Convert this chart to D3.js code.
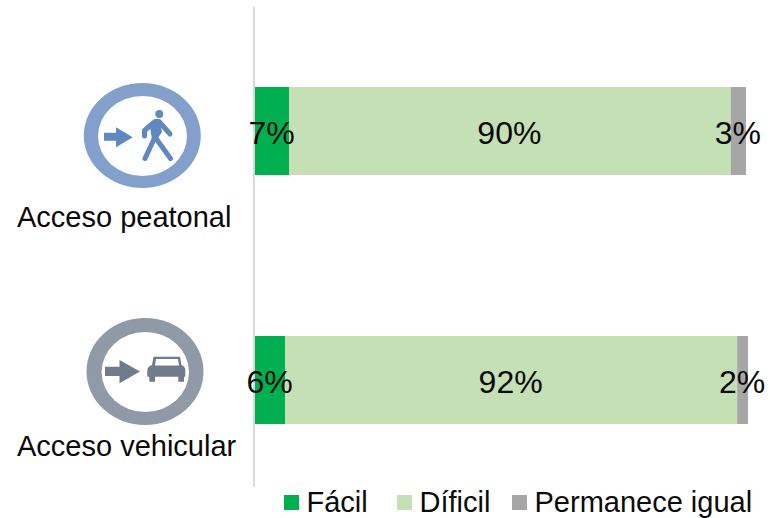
<!DOCTYPE html>
<html><head><meta charset="utf-8">
<script src="https://cdn.jsdelivr.net/npm/d3@7/dist/d3.min.js"></script>
<style>html,body{margin:0;padding:0;background:#fff}svg{display:block}text{font-family:"Liberation Sans",Arial,sans-serif;fill:#0a0a0a}</style>
</head><body><div id="c"></div>
<script>
const categories = ["Acceso peatonal", "Acceso vehicular"];
const seriesNames = ["Fácil", "Díficil", "Permanece igual"];
const facil = [6.9, 6.1];
const dificil = [89.6, 91.7];
const igual = [3.1, 2.2];
const colors = ["#00b050", "#c5e0b4", "#a6a6a6"];

const svg = d3.select("#c").append("svg").attr("width", 770).attr("height", 518);
const defs = svg.append("defs");
defs.append("filter").attr("id", "soft").append("feGaussianBlur").attr("stdDeviation", 0.6);

const x = d3.scaleLinear().domain([0, 100]).range([255, 748]);
const y = d3.scaleBand().domain(categories).range([87, 424]).paddingInner(0.6466);

const rows = categories.map((c, i) => ({ cat: c, vals: [facil[i], dificil[i], igual[i]] }));
const stacked = d3.stack().keys([0, 1, 2]).value((d, k) => d.vals[k])(rows);

svg.append("g").selectAll("g").data(stacked).join("g").attr("fill", (d, i) => colors[i])
  .selectAll("rect").data(d => d).join("rect")
  .attr("x", d => x(d[0])).attr("width", d => x(d[1]) - x(d[0]))
  .attr("y", d => y(d.data.cat)).attr("height", y.bandwidth());

const axis = d3.axisLeft(y).tickSize(0).tickFormat("");
const ag = svg.append("g").attr("transform", "translate(254,0)").call(axis);
ag.select(".domain").remove();
svg.append("line").attr("x1", 254).attr("x2", 254).attr("y1", 7).attr("y2", 487).attr("stroke", "#d9d9d9").attr("stroke-width", 2);

svg.append("g").selectAll("g").data(stacked).join("g")
  .selectAll("text").data(d => d).join("text")
  .attr("x", d => (x(d[0]) + x(d[1])) / 2 - 0.5)
  .attr("y", d => y(d.data.cat) + 57)
  .attr("text-anchor", "middle").attr("font-size", 32)
  .text(d => d3.format(".0f")(d[1] - d[0]) + "%");

svg.append("g").selectAll("text").data(categories).join("text")
  .attr("x", 17).attr("y", d => y(d) + (d === categories[0] ? 140 : 120))
  .attr("font-size", 29).text(d => d);

// pedestrian icon
const p = svg.append("g").attr("filter", "url(#soft)");
p.append("ellipse").attr("cx", 142.3).attr("cy", 135.5).attr("rx", 58.5).attr("ry", 52.5).attr("fill", "#83a0cd");
p.append("ellipse").attr("cx", 142.5).attr("cy", 136).attr("rx", 44.5).attr("ry", 40).attr("fill", "#fff");
p.append("path").attr("d", "M104 132.7H116V127.3L132.7 137.3L116 147.3V140.7H104Z").attr("fill", "#6288c0");
p.append("circle").attr("cx", 159.3).attr("cy", 114).attr("r", 4).attr("fill", "#6288c0");
p.append("path").attr("d", "M144.5 136V130.5L155 121.5H159L170 134M153 126L155 137L145 158.5M155 137L170.5 158.5")
  .attr("fill", "none").attr("stroke", "#6288c0").attr("stroke-width", 5).attr("stroke-linecap", "round").attr("stroke-linejoin", "round");
p.append("path").attr("d", "M150 127L160 121.5L162 132L156 141L152 139Z").attr("fill", "#6288c0");

// vehicle icon
const v = svg.append("g").attr("filter", "url(#soft)");
v.append("ellipse").attr("cx", 145).attr("cy", 371.5).attr("rx", 58.5).attr("ry", 53.5).attr("fill", "#8f9aa6");
v.append("ellipse").attr("cx", 145.3).attr("cy", 372).attr("rx", 43.7).attr("ry", 40).attr("fill", "#fff");
v.append("path").attr("d", "M105 366.7H119.5V360L140 371.5L119.5 383.3V376H105Z").attr("fill", "#6f7c8c");
v.append("path").attr("d", "M147.3 370Q148 366 152 365L153.5 356.7H180L181.5 365Q185 366 185.3 370V376.7H184V381.7H178.3V376.7H155V381.7H149.3V376.7H147.3Z").attr("fill", "#6f7c8c");
v.append("path").attr("d", "M155 365.5L156 359H178L179 365.5Z").attr("fill", "#fff");

// legend
const lx = d3.scaleOrdinal().domain(seriesNames).range([284, 397, 512]);
const lg = svg.append("g").selectAll("g").data(seriesNames).join("g")
  .attr("transform", d => `translate(${lx(d)},495)`);
lg.append("rect").attr("width", 15).attr("height", 15).attr("fill", (d, i) => colors[i]);
lg.append("text").attr("x", 22.5).attr("y", 17).attr("font-size", 29).text(d => d);
</script></body></html>
